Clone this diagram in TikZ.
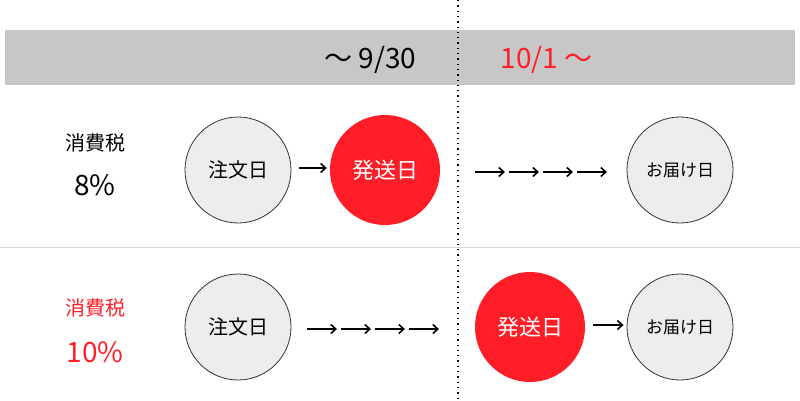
\documentclass[tikz,border=0pt]{standalone}
\usepackage{fontspec}
\usetikzlibrary{arrows.meta}
\setmainfont{Noto Sans CJK JP}
\begin{document}
\begin{tikzpicture}[x=1pt,y=-1pt,
 gc/.style={circle,draw=black!80,fill=black!7,line width=0.8pt,minimum size=106pt,inner sep=0pt,font=\fontsize{20}{22}\selectfont},
 rc/.style={circle,fill={rgb,255:red,255;green,30;blue,40},minimum size=110pt,inner sep=0pt,text=white,font=\fontsize{22}{24}\selectfont},
 ar/.style={-{Straight Barb[length=5pt,width=9pt]},line width=1.6pt}]
\useasboundingbox (0,0) rectangle (800,400);
\definecolor{myred}{RGB}{255,30,40}
\fill[black!22] (5,30) rectangle (795,85);
\draw[black!15] (0,247) -- (800,247);
\draw[line width=1.3pt,dash pattern=on 1.3pt off 4pt] (458,0) -- (458,400);
\node[font=\fontsize{28}{30}\selectfont,anchor=east] (t1) at (420,60) {〜 9/30};
\node[font=\fontsize{28}{30}\selectfont,anchor=west,text=myred] (t2) at (497,60) {10/1 〜};
\node[font=\fontsize{20}{22}\selectfont] (k1) at (95,143) {消費税};
\node[font=\fontsize{28}{30}\selectfont] (p1) at (95,185) {8\%};
\node[font=\fontsize{20}{22}\selectfont,text=myred] (k2) at (95,308) {消費税};
\node[font=\fontsize{28}{30}\selectfont,text=myred] (p2) at (95,352) {10\%};
\node[gc] (a1) at (238,170) {注文日};
\node[rc] (b1) at (385,170) {発送日};
\node[gc,font=\fontsize{17}{19}\selectfont] (c1) at (680,170) {お届け日};
\node[gc] (a2) at (238,327) {注文日};
\node[rc] (b2) at (530,327) {発送日};
\node[gc,font=\fontsize{17}{19}\selectfont] (c2) at (680,327) {お届け日};
\draw[ar] ([xshift=8pt,yshift=2pt]a1.east) -- ([xshift=-3pt,yshift=2pt]b1.west);
\foreach \i in {0,1,2,3} {
 \coordinate (u\i) at (475+\i*34,172);
 \coordinate (v\i) at (505+\i*34,172);
 \draw[ar] (u\i) -- (v\i);
 \coordinate (w\i) at (307+\i*34,329);
 \coordinate (z\i) at (337+\i*34,329);
 \draw[ar] (w\i) -- (z\i);
}
\draw[ar] ([xshift=8pt,yshift=2pt]b2.east) -- ([xshift=-3pt,yshift=2pt]c2.west);
\end{tikzpicture}
\end{document}
